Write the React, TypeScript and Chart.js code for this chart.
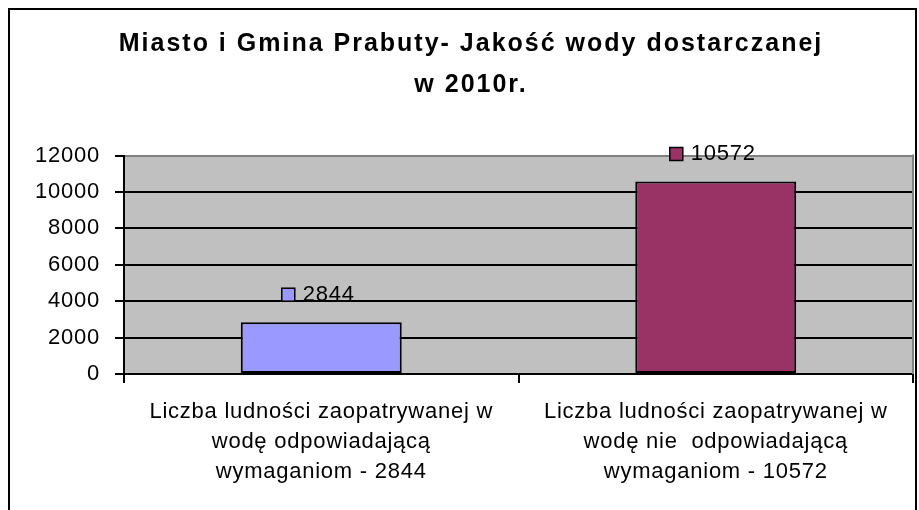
import React, { useEffect, useRef } from 'react';
import { Chart, registerables } from 'chart.js';

Chart.register(...registerables);

const titleLines = ['Miasto i Gmina Prabuty- Jakość wody dostarczanej', 'w 2010r.'];
const categories = [
  ['Liczba ludności zaopatrywanej w', 'wodę odpowiadającą', 'wymaganiom - 2844'],
  ['Liczba ludności zaopatrywanej w', 'wodę nie  odpowiadającą', 'wymaganiom - 10572'],
];
const values = [2844, 10572];
const barColors = ['#9999FF', '#993366'];
const yTicks = [0, 2000, 4000, 6000, 8000, 10000, 12000];

const FONT = "'Liberation Sans', Arial, Helvetica, sans-serif";

const excelPlugin = {
  id: 'excelLook',
  beforeDraw(chart: any) {
    const { ctx, chartArea: a } = chart;
    ctx.save();
    ctx.fillStyle = '#C0C0C0';
    ctx.fillRect(a.left, a.top, a.right - a.left, a.bottom - a.top);
    ctx.restore();
    (ctx as any).letterSpacing = '2px';
  },
  beforeDatasetsDraw(chart: any) {
    const { ctx, chartArea: a } = chart;
    (ctx as any).letterSpacing = '0.75px';
    ctx.save();
    ctx.strokeStyle = '#808080';
    ctx.lineWidth = 2;
    ctx.beginPath();
    ctx.moveTo(a.right, a.top - 1);
    ctx.lineTo(a.right, a.bottom);
    ctx.stroke();
    ctx.restore();
  },
  afterDatasetsDraw(chart: any) {
    const { ctx } = chart;
    const meta = chart.getDatasetMeta(0);
    ctx.save();
    ctx.font = `22px ${FONT}`;
    meta.data.forEach((bar: any, i: number) => {
      const { x, y } = bar.getProps(['x', 'y'], true);
      const text = String(values[i]);
      const tw = ctx.measureText(text).width;
      const sq = 13;
      const gap = 8;
      const total = sq + gap + tw;
      const left = x - total / 2 - 3;
      const cy = y - 27.5;
      ctx.fillStyle = barColors[i];
      ctx.fillRect(left, cy - sq / 2, sq, sq);
      ctx.strokeStyle = '#000';
      ctx.lineWidth = 1.5;
      ctx.strokeRect(left, cy - sq / 2, sq, sq);
      ctx.fillStyle = '#000';
      ctx.textAlign = 'left';
      ctx.textBaseline = 'middle';
      ctx.fillText(text, left + sq + gap, cy);
    });
    ctx.restore();
  },
  afterDraw(chart: any) {
    (chart.ctx as any).letterSpacing = '0px';
  },
};

export default function App() {
  const canvasRef = useRef<HTMLCanvasElement | null>(null);

  useEffect(() => {
    if (!canvasRef.current) return;
    const chart = new Chart(canvasRef.current, {
      type: 'bar',
      data: {
        labels: categories as any,
        datasets: [
          {
            data: values,
            backgroundColor: barColors,
            borderColor: '#000',
            borderWidth: 2,
            borderSkipped: false,
            categoryPercentage: 0.408,
            barPercentage: 1,
          },
        ],
      },
      options: {
        responsive: false,
        animation: false,
        layout: { padding: { left: 29, right: 6, top: 0, bottom: 0 } },
        plugins: {
          legend: { display: false },
          tooltip: { enabled: false },
          title: {
            display: true,
            text: titleLines,
            color: '#000',
            font: { family: FONT, size: 25, weight: 'bold', lineHeight: 1.64 },
            padding: { top: 23.5, bottom: 50 },
          },
        },
        scales: {
          x: {
            type: 'category',
            offset: true,
            grid: {
              display: true,
              offset: true,
              drawOnChartArea: false,
              drawTicks: true,
              tickLength: 9,
              color: '#000',
              lineWidth: 2,
            },
            border: { display: true, color: '#000', width: 2 },
            ticks: {
              color: '#000',
              font: { family: FONT, size: 22, lineHeight: 1.3637 },
              padding: 14,
              maxRotation: 0,
              minRotation: 0,
              autoSkip: false,
              z: 1,
            },
            afterFit(scale: any) {
              scale.height = 136;
            },
          },
          y: {
            min: 0,
            max: 12000,
            afterBuildTicks(scale: any) {
              scale.ticks = yTicks.map((v) => ({ value: v }));
            },
            grid: {
              color: (c: any) => (c.tick && c.tick.value === 12000 ? '#808080' : '#000'),
              tickColor: '#000',
              lineWidth: 2,
              tickLength: 9,
              drawTicks: true,
            },
            border: { display: true, color: '#000', width: 2 },
            ticks: {
              color: '#000',
              font: { family: FONT, size: 22 },
              padding: 15,
              callback: (v: any) => String(v),
              z: 1,
            },
            afterFit(scale: any) {
              scale.width = 95;
            },
          },
        },
      } as any,
      plugins: [excelPlugin],
    });
    return () => chart.destroy();
  }, []);

  return (
    <div style={{ position: 'absolute', left: 0, top: 0, width: 919, height: 510, background: '#fff' }}>
      <canvas ref={canvasRef} width={919} height={510} style={{ position: 'absolute', left: 0, top: 0, width: 919, height: 510 }} />
      <div
        style={{
          position: 'absolute',
          left: 8,
          top: 8,
          width: 909,
          height: 502,
          boxSizing: 'border-box',
          borderTop: '2px solid #000',
          borderLeft: '2px solid #000',
          borderRight: '2px solid #000',
          pointerEvents: 'none',
        }}
      />
    </div>
  );
}
